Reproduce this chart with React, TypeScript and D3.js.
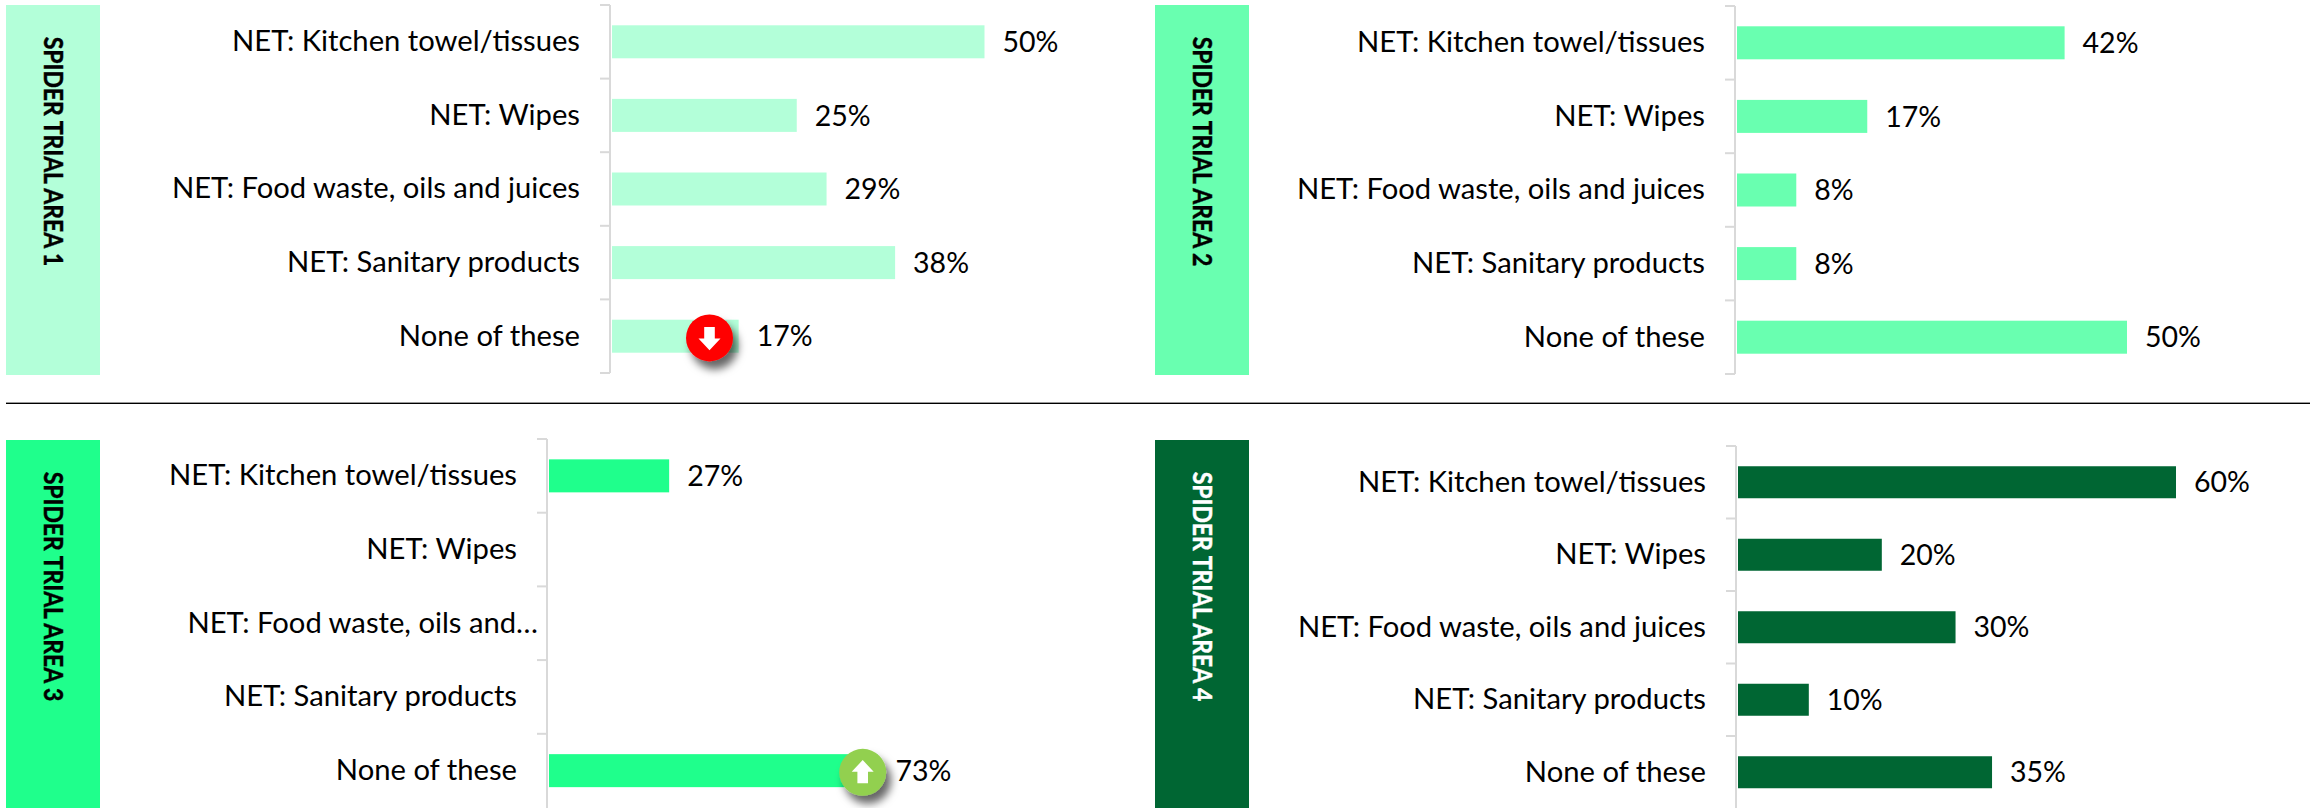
import React, { useLayoutEffect, useRef } from "react";
import * as d3 from "d3";

const categories = ["NET: Kitchen towel/tissues", "NET: Wipes", "NET: Food waste, oils and juices", "NET: Sanitary products", "None of these"];
const categories3 = ["NET: Kitchen towel/tissues", "NET: Wipes", "NET: Food waste, oils and…", "NET: Sanitary products", "None of these"];
const area1Values = [50, 24.8, 28.8, 38, 17];
const area2Values = [42, 16.7, 7.6, 7.6, 50];
const area3Values = [26.7, null, null, null, 73];
const area4Values = [60, 19.7, 29.8, 9.7, 34.8];
const areaTitles = ["SPIDER TRIAL AREA 1", "SPIDER TRIAL AREA 2", "SPIDER TRIAL AREA 3", "SPIDER TRIAL AREA 4"];
const areaColors = ["#B3FFD9", "#69FFB0", "#1FFF8C", "#006633"];
const titleColors = ["#000000", "#000000", "#000000", "#FFFFFF"];

type Panel = {
  title: string; color: string; titleColor: string; cats: string[]; values: (number | null)[];
  boxX: number; boxY: number; boxB: number; axisX: number; axisT: number; axisB: number; step: number; barH: number; pxPerPct: number;
  marker?: { index: number; dir: "up" | "down"; cx: number };
};

const panels: Panel[] = [
  { title: areaTitles[0], color: areaColors[0], titleColor: titleColors[0], cats: categories, values: area1Values, boxX: 6, boxY: 5, boxB: 375, axisX: 610, axisT: 5, axisB: 373, step: 73.6, barH: 33, pxPerPct: 7.45, marker: { index: 4, dir: "down", cx: 709.5 } },
  { title: areaTitles[1], color: areaColors[1], titleColor: titleColors[1], cats: categories, values: area2Values, boxX: 1155, boxY: 5, boxB: 375, axisX: 1735, axisT: 6, axisB: 374, step: 73.6, barH: 33, pxPerPct: 7.8 },
  { title: areaTitles[2], color: areaColors[2], titleColor: titleColors[2], cats: categories3, values: area3Values, boxX: 6, boxY: 440, boxB: 808, axisX: 547, axisT: 439, axisB: 808, step: 73.7, barH: 33, pxPerPct: 4.5, marker: { index: 4, dir: "up", cx: 862.7 } },
  { title: areaTitles[3], color: areaColors[3], titleColor: titleColors[3], cats: categories, values: area4Values, boxX: 1155, boxY: 440, boxB: 808, axisX: 1736, axisT: 446, axisB: 808, step: 72.5, barH: 32, pxPerPct: 7.3 },
];

const FONT = "Lato, 'Open Sans', sans-serif";
const pctLabel = d3.format(".0f");

export default function App() {
  const ref = useRef<SVGSVGElement>(null);
  useLayoutEffect(() => {
    const svg = d3.select(ref.current!);
    svg.selectAll("*").remove();
    const defs = svg.append("defs");
    const f = defs.append("filter").attr("id", "mk").attr("x", "-50%").attr("y", "-50%").attr("width", "220%").attr("height", "220%");
    f.append("feDropShadow").attr("dx", 5).attr("dy", 8).attr("stdDeviation", 4).attr("flood-color", "#000").attr("flood-opacity", 0.6);

    svg.append("line").attr("x1", 6).attr("x2", 2310).attr("y1", 402.5).attr("y2", 402.5).attr("stroke", "#999").attr("stroke-width", 1);
    svg.append("line").attr("x1", 6).attr("x2", 2310).attr("y1", 403.5).attr("y2", 403.5).attr("stroke", "#000").attr("stroke-width", 1);

    panels.forEach((p) => {
      const g = svg.append("g");
      g.append("rect").attr("x", p.boxX).attr("y", p.boxY).attr("width", 94).attr("height", p.boxB - p.boxY).attr("fill", p.color);
      const titleY = p.boxY + 146.5;
      g.append("text")
        .attr("transform", `translate(${p.boxX + 37.5},${titleY}) rotate(90) scale(1,1.13)`)
        .attr("text-anchor", "middle")
        .attr("font-family", FONT).attr("font-weight", 700).attr("font-size", 23).attr("fill", p.titleColor)
        .attr("stroke", p.titleColor).attr("stroke-width", 0.4)
        .text(p.title);

      const y = d3.scaleBand<number>().domain(d3.range(5)).range([p.axisT, p.axisT + p.step * 5]);
      const x = d3.scaleLinear().domain([0, 1]).range([p.axisX + 2, p.axisX + 2 + p.pxPerPct]);

      g.append("line").attr("x1", p.axisX).attr("x2", p.axisX).attr("y1", p.axisT).attr("y2", p.axisB).attr("stroke", "#D9D9D9").attr("stroke-width", 2);
      d3.range(6).forEach((i) => {
        const ty = p.axisT + p.step * i;
        if (ty > 807) return;
        g.append("line").attr("x1", p.axisX - 10).attr("x2", p.axisX).attr("y1", ty).attr("y2", ty).attr("stroke", "#D9D9D9").attr("stroke-width", 2);
      });

      p.values.forEach((v, i) => {
        const cy = y(i)! + y.bandwidth() / 2;
        const truncated = p.cats[i].endsWith("…");
        g.append("text").attr("x", p.axisX - (truncated ? 9 : 30)).attr("y", cy - 0.5).attr("dy", "0.34em").attr("text-anchor", "end")
          .attr("font-family", FONT).attr("font-size", 29.2).attr("fill", "#000").text(p.cats[i]);
        if (v == null) return;
        g.append("rect").attr("x", x(0)).attr("y", cy - p.barH / 2).attr("width", x(v) - x(0)).attr("height", p.barH).attr("fill", p.color);
        g.append("text").attr("x", x(v) + 18).attr("y", cy + 0.5).attr("dy", "0.34em")
          .attr("font-family", FONT).attr("font-size", 28.5).attr("fill", "#000").text(`${pctLabel(v)}%`);
      });

      if (p.marker) {
        const cy = y(p.marker.index)! + y.bandwidth() / 2;
        const col = p.marker.dir === "down" ? "#FF0000" : "#92D050";
        const mg = g.append("g").attr("transform", `translate(${p.marker.cx},${cy + 1.7})`);
        mg.append("circle").attr("r", 23.5).attr("fill", col).attr("filter", "url(#mk)");
        const s = p.marker.dir === "down" ? 1 : -1;
        const pts: [number, number][] = [[-5.3, -11], [5.3, -11], [5.3, 0.7], [11, 0.7], [0, 12.3], [-11, 0.7], [-5.3, 0.7]];
        mg.append("polygon").attr("points", pts.map(([a, b]) => `${a},${b * s}`).join(" ")).attr("fill", "#fff");
      }
    });
  }, []);
  return <svg ref={ref} width={2310} height={808} style={{ position: "absolute", left: 0, top: 0, background: "#fff" }} />;
}
